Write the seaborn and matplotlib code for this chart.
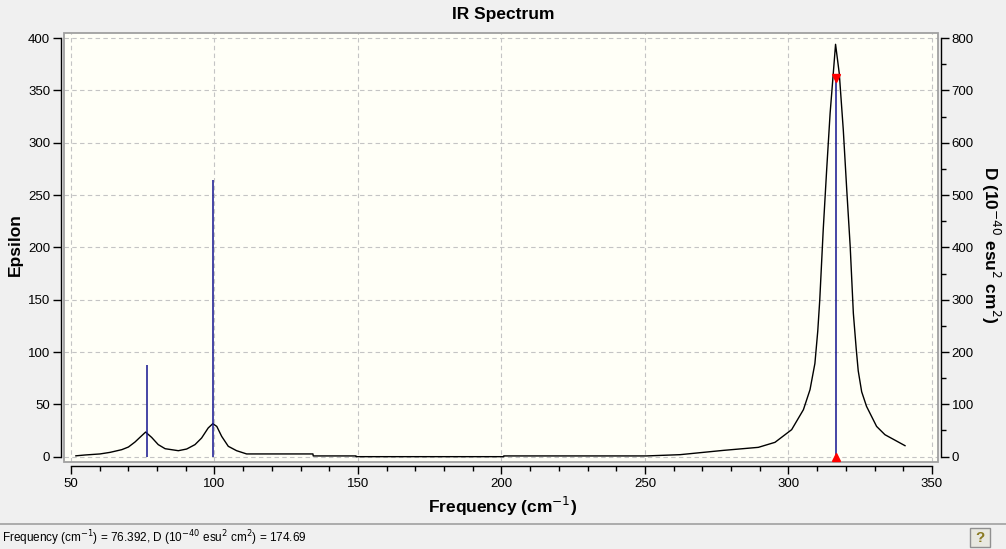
import numpy as np
import pandas as pd
import matplotlib
matplotlib.use("Agg")
import matplotlib.pyplot as plt
from matplotlib.patches import Rectangle
from matplotlib.ticker import MultipleLocator
import seaborn as sns

# spectrum curve (frequency in cm-1, epsilon)
freq = [51.7, 54.9, 60.1, 63.6, 67.7, 70.0, 72.3, 74.0, 76.0, 78.1, 80.4, 82.8,
        87.4, 90.3, 93.2, 95.5, 97.8, 99.4, 100.8, 102.5, 104.8, 107.7, 111.2,
        134.3, 134.4, 149.3, 149.4, 200.7, 200.8, 250.5, 262.2, 277.3, 289.5,
        295.3, 301.1, 305.2, 307.5, 309.2, 310.2, 310.9, 312.1, 313.3, 314.5,
        315.6, 316.4, 317.7, 319.1, 320.3, 321.5, 322.6, 323.6, 324.3, 325.5,
        327.2, 330.7, 333.6, 340.6]
epsilon = [0.8, 1.6, 2.6, 4.1, 6.7, 9.2, 14.0, 18.4, 23.5, 18.4, 11.5, 7.6,
           5.7, 7.3, 11.5, 17.8, 27.4, 31.5, 28.9, 19.4, 9.9, 5.7, 2.6,
           2.6, 0.7, 0.7, 0.0, 0.0, 0.7, 0.7, 1.9, 6.0, 8.9,
           13.7, 25.8, 44.9, 64.0, 89.0, 120.0, 150.0, 216.7, 274.0, 328.0,
           366.0, 394.0, 366.0, 312.0, 255.0, 200.8, 137.0, 103.0, 82.0, 62.0,
           48.0, 28.9, 21.0, 10.5]

# stick intensities (dipole strength D, right axis)
stick_freq = [76.392, 99.6, 316.4]
stick_d = [174.69, 529.0, 724.0]
sel_freq = 316.4
sel_d = 724.0

spec = pd.DataFrame({"Frequency": freq, "Epsilon": epsilon})

W, H = 1006, 549
fig = plt.figure(figsize=(W / 100, H / 100), dpi=100, facecolor="#f0f0f0")
font = "Liberation Sans"
plt.rcParams["font.family"] = [font, "DejaVu Sans"]

# plot box in pixel coords: left 64, right 938, top 33, bottom 462
ax = fig.add_axes([64 / W, 1 - 462 / H, (938.3 - 64) / W, (462 - 33) / H])
ax.set_facecolor("#fffff7")

sns.lineplot(data=spec, x="Frequency", y="Epsilon", ax=ax, color="black",
             lw=1.0, sort=False, zorder=3)

ax.set_xlim(47.56, 352.2)
ax.set_ylim(-5.1, 404.8)
ax.xaxis.set_major_locator(MultipleLocator(50))
ax.xaxis.set_minor_locator(MultipleLocator(10))
ax.yaxis.set_major_locator(MultipleLocator(50))
ax.grid(True, which="major", color="#c4c4c4", lw=0.8, linestyle=(0, (4, 3)))
ax.set_axisbelow(True)

ax2 = ax.twinx()
ax2.set_ylim(-10.2, 809.6)
ax2.yaxis.set_major_locator(MultipleLocator(100))
ax2.yaxis.set_minor_locator(MultipleLocator(50))
ax2.vlines(stick_freq, 0, stick_d, color="#14148f", lw=1.1, zorder=4)
ax2.plot([sel_freq], [sel_d], marker="v", color="red", ms=6, ls="none", zorder=5)
ax2.plot([sel_freq], [0], marker="^", color="red", ms=6, ls="none", zorder=5,
         clip_on=False)

# spines offset outward like the original viewer
for s in ["top", "right"]:
    ax.spines[s].set_visible(False)
for s in ["top", "left", "bottom"]:
    ax2.spines[s].set_visible(False)
ax.spines["left"].set_position(("outward", 2))
ax.spines["left"].set_bounds(0, 400)
ax.spines["bottom"].set_position(("outward", 3))
ax.spines["bottom"].set_bounds(50, 350)
ax2.spines["right"].set_position(("outward", 2))
ax2.spines["right"].set_bounds(0, 800)
for sp in [ax.spines["left"], ax.spines["bottom"], ax2.spines["right"]]:
    sp.set_color("black")
    sp.set_linewidth(1.0)

ax.tick_params(axis="y", which="major", length=6, width=1, labelsize=9.5, pad=2)
ax.tick_params(axis="x", which="major", length=5.5, width=1, labelsize=9.5, pad=3)
ax.tick_params(axis="x", which="minor", length=3.3, width=1)
ax2.tick_params(axis="y", which="major", length=5.5, width=1, labelsize=9.5, pad=2)
ax2.tick_params(axis="y", which="minor", length=3.3, width=1)

# gray frame around the plot area
ax.add_patch(Rectangle((0, 0), 1, 1, transform=ax.transAxes, fill=False,
                       edgecolor="#a0a0a0", lw=1.3, clip_on=False, zorder=6))

ax.set_xlabel("")
ax.set_ylabel("")
fig.text(503 / W, 1 - 15 / H, "IR Spectrum", ha="center", va="center",
         fontsize=12.5, fontweight="bold")
fig.text(503 / W, 1 - 506 / H, "Frequency (cm$^{-1}$)", ha="center", va="center",
         fontsize=12.5, fontweight="bold")
fig.text(15 / W, 1 - 245 / H, "Epsilon", ha="center", va="center", rotation=90,
         fontsize=12.5, fontweight="bold")
fig.text(991 / W, 1 - 245 / H, "D (10$^{-40}$ esu$^{2}$ cm$^{2}$)", ha="center",
         va="center", rotation=-90, fontsize=12.5, fontweight="bold")

# status bar
fig.add_artist(plt.Line2D([0, 1], [1 - 524 / H, 1 - 524 / H], color="#a0a0a0",
                          lw=1.2, transform=fig.transFigure))
fig.text(2 / W, 1 - 538 / H,
         "Frequency (cm$^{-1}$) = 76.392, D (10$^{-40}$ esu$^{2}$ cm$^{2}$) = 174.69",
         ha="left", va="center", fontsize=8.5)
fig.add_artist(Rectangle((970 / W, 1 - 547 / H), 20 / W, 19 / H,
                         transform=fig.transFigure, facecolor="#e8e8e0",
                         edgecolor="#909090", lw=1))
fig.text(980 / W, 1 - 538 / H, "?", ha="center", va="center", fontsize=11,
         fontweight="bold", color="#8a7a20")

fig.savefig("out.png", dpi=100, facecolor=fig.get_facecolor())
